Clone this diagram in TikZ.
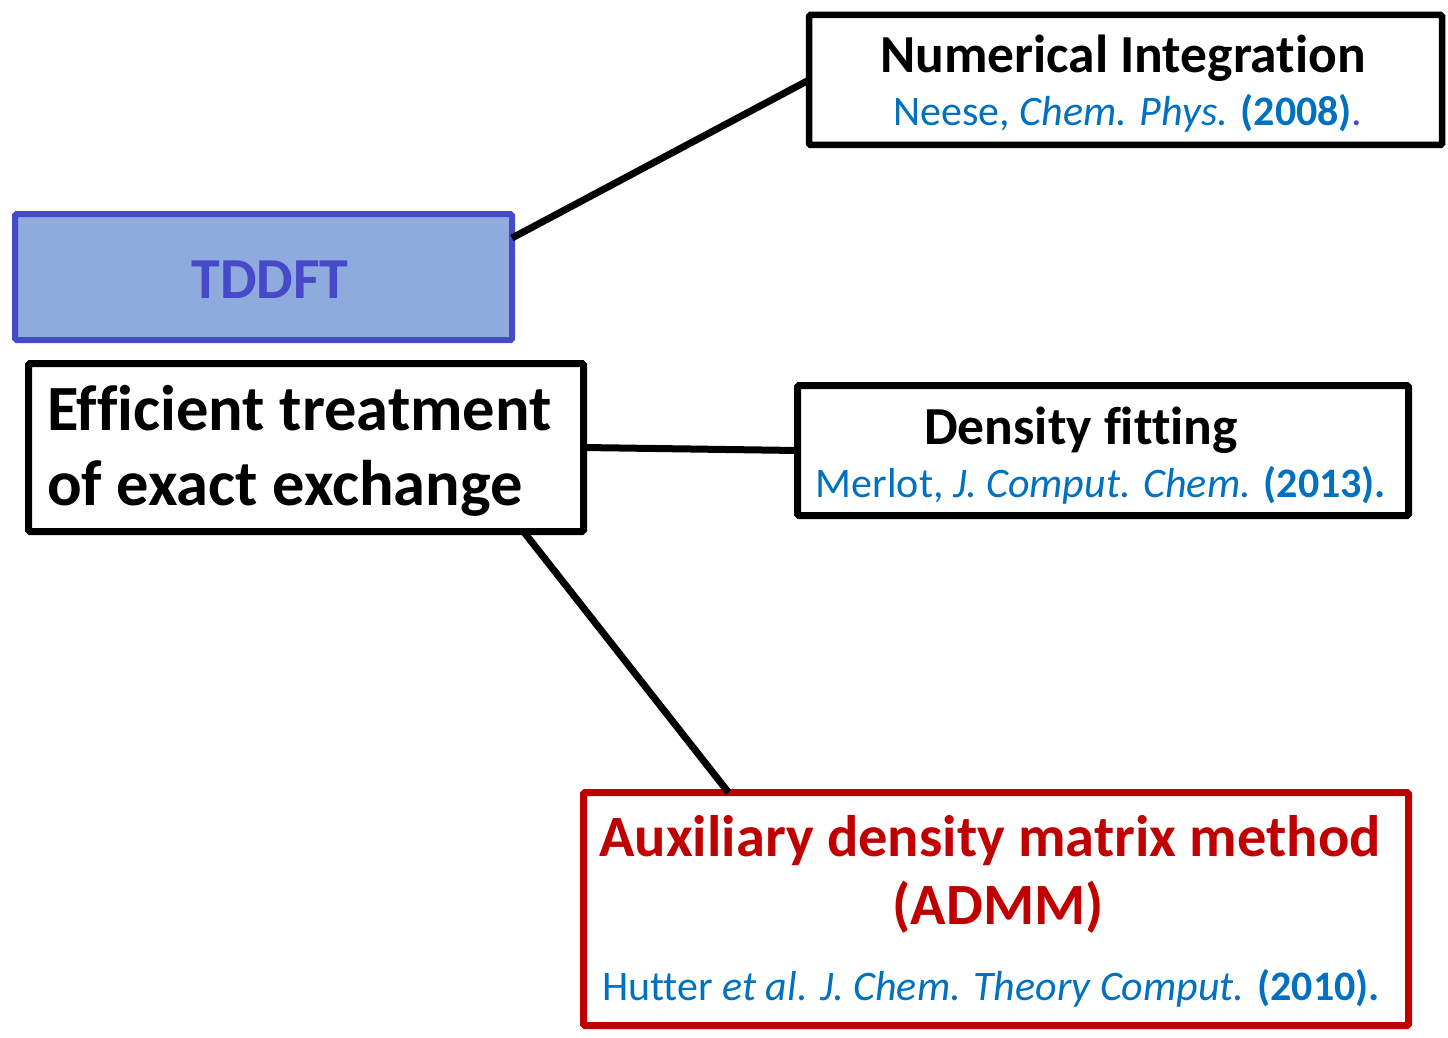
\documentclass[tikz,border=0pt]{standalone}
\usepackage{fontspec}
\setmainfont[Ligatures={NoCommon}]{Carlito}
\usetikzlibrary{calc}

\definecolor{tdline}{HTML}{4649C8}
\definecolor{tdfill}{HTML}{8FAADC}
\definecolor{citeblue}{HTML}{0070C0}
\definecolor{admmred}{HTML}{C00000}

\tikzset{
  box/.style={draw, rectangle, inner sep=0pt, outer sep=0pt, line width=7pt, rounded corners=1.5pt},
  link/.style={line width=7pt},
  head/.style={anchor=base, inner sep=0pt, font=\fontsize{53.5}{64}\selectfont\bfseries},
  cite/.style={anchor=base, inner sep=0pt, text=citeblue, font=\fontsize{42}{50}\selectfont},
}

\begin{document}
\begin{tikzpicture}[x=1pt, y=-1pt]
  \useasboundingbox (0,0) rectangle (1448,1038);

  % boxes
  \node[box, line width=6pt, draw=tdline, fill=tdfill, minimum width=497pt, minimum height=126pt] (tddft) at (263.5,277) {};
  \node[box, fill=white, minimum width=555pt, minimum height=168pt] (eff) at (306,447.5) {};
  \node[box, line width=6.5pt, minimum width=633pt, minimum height=130pt] (num) at (1125.5,80) {};
  \node[box, minimum width=611pt, minimum height=130pt] (dens) at (1103,450.5) {};
  \node[box, draw=admmred, minimum width=825pt, minimum height=233pt] (admm) at (996,909) {};

  % connectors
  \draw[link] ([yshift=39pt]tddft.east) -- (num.west);
  \draw[link] (eff.east) -- (dens.west);
  \draw[link] ([xshift=-60pt]eff.south east) -- ([xshift=145pt]admm.north west);

  % texts
  \node[head, text=tdline, font=\fontsize{58}{68}\selectfont\bfseries] (tddftT) at (270,298) {TDDFT};
  \node[head, anchor=base west, font=\fontsize{64.5}{75}\selectfont\bfseries] (effA) at (47,430) {Efficient treatment};
  \node[head, anchor=base west, font=\fontsize{64.5}{75}\selectfont\bfseries] (effB) at (47,505) {of exact exchange};

  \node[head] (numT) at (1123,73) {Numerical Integration};
  \node[cite] (numC) at (1128,125) {Neese, \textit{Chem. Phys.} \textbf{(2008)}\textcolor{tdline}{.}};

  \node[head] (densT) at (1081,444) {Density fitting};
  \node[cite] (densC) at (1101,497) {Merlot, \textit{J. Comput. Chem.} \textbf{(2013).}};

  \node[head, text=admmred, font=\fontsize{58.5}{70}\selectfont\bfseries] (admmA) at (990,856) {Auxiliary density matrix method};
  \node[head, text=admmred, font=\fontsize{58.5}{70}\selectfont\bfseries] (admmB) at (998,924) {(ADMM)};
  \node[cite] (admmC) at (991,1000) {Hutter \textit{et al. J. Chem. Theory Comput.} \textbf{(2010).}};
\end{tikzpicture}
\end{document}
